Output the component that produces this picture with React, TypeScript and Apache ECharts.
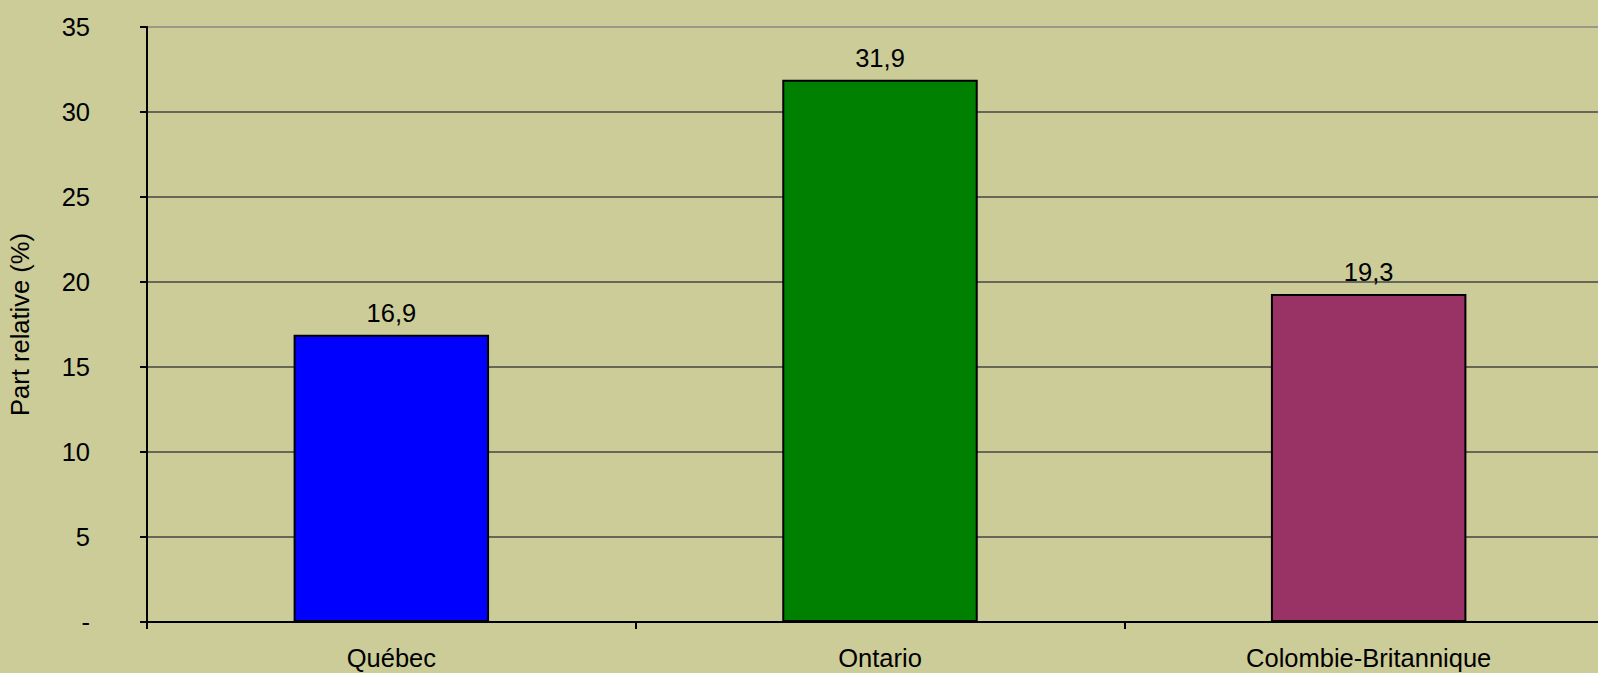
import React, { useEffect, useRef } from "react";
import * as echarts from "echarts";

const categories = ["Québec", "Ontario", "Colombie-Britannique"];
const values = [16.9, 31.9, 19.3];
const barColors = ["#0000FF", "#008000", "#993366"];
const yTicks = [0, 5, 10, 15, 20, 25, 30, 35];
const yAxisName = "Part relative (%)";

const FONT = "'Liberation Sans', Arial, sans-serif";
const FS = 25.5;

export default function App() {
  const ref = useRef<HTMLDivElement>(null);
  useEffect(() => {
    if (!ref.current) return;
    const chart = echarts.init(ref.current, null, { renderer: "svg" });
    chart.setOption({
      animation: false,
      backgroundColor: "#CCCC99",
      textStyle: { fontFamily: FONT },
      grid: {
        left: 147,
        width: 1466,
        top: 27,
        bottom: 51,
        containLabel: false,
        outerBoundsMode: "none",
      },
      xAxis: {
        type: "category",
        data: categories,
        boundaryGap: true,
        axisLine: { show: true, lineStyle: { color: "#000", width: 2 } },
        axisTick: { show: true, length: 7, lineStyle: { color: "#000", width: 2 } },
        axisLabel: {
          color: "#000",
          fontSize: FS,
          lineHeight: 26,
          fontFamily: FONT,
          margin: 23,
        },
      },
      yAxis: {
        type: "value",
        min: yTicks[0],
        max: yTicks[yTicks.length - 1],
        interval: 5,
        name: yAxisName,
        nameLocation: "middle",
        nameRotate: 90,
        nameGap: 114,
        nameTextStyle: { color: "#000", fontSize: FS, fontFamily: FONT },
        axisLine: { show: true, lineStyle: { color: "#000", width: 2 } },
        axisTick: { show: true, length: 7, lineStyle: { color: "#000", width: 2 } },
        axisLabel: {
          color: "#000",
          fontSize: FS,
          fontFamily: FONT,
          margin: 57,
          formatter: (v: number) => (v === 0 ? "-" : String(v)),
        },
        splitLine: {
          show: true,
          lineStyle: {
            color: ["#444", "#444", "#444", "#444", "#444", "#444", "#444", "#8a8a80"],
            width: 1.5,
          },
        },
      },
      series: [
        {
          type: "bar",
          barWidth: "40%",
          data: values.map((v, i) => ({
            value: v,
            itemStyle: { color: barColors[i], borderColor: "#000", borderWidth: 2 },
          })),
          label: {
            show: true,
            position: "top",
            distance: 9,
            color: "#000",
            fontSize: FS,
            fontFamily: FONT,
            formatter: (p: any) => String(p.value).replace(".", ","),
          },
        },
      ],
    });
    return () => chart.dispose();
  }, []);
  return (
    <div
      ref={ref}
      style={{ position: "absolute", left: 0, top: 0, width: 1598, height: 673 }}
    />
  );
}
